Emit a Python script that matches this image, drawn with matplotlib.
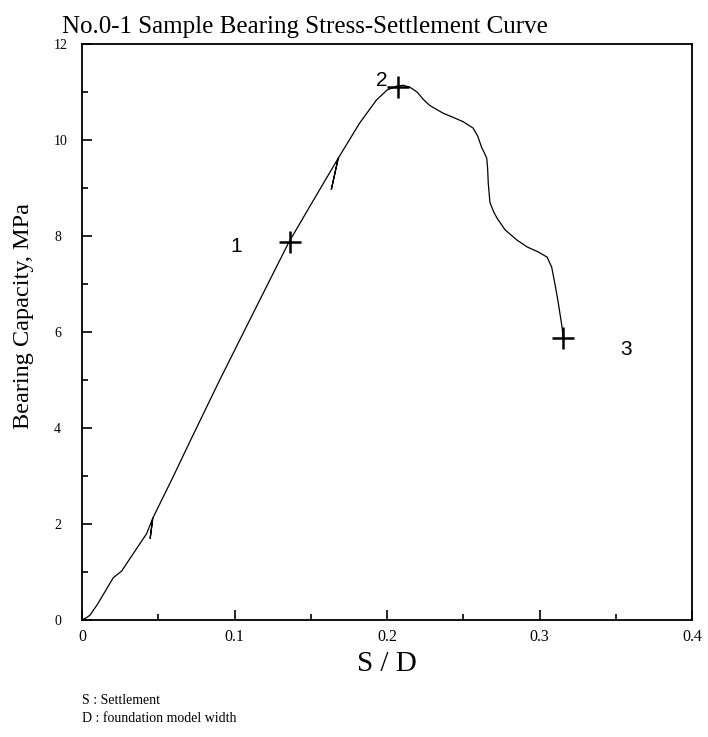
import matplotlib
matplotlib.use("Agg")
import matplotlib.pyplot as plt
from matplotlib.ticker import MultipleLocator

# ---- data ----
sd = [0.000, 0.003, 0.0052, 0.010, 0.0205, 0.026, 0.035, 0.0424, 0.0464, 0.0447, 0.0464,
      0.060, 0.0708, 0.090, 0.110, 0.1353, 0.150, 0.168, 0.1635, 0.168, 0.182, 0.193,
      0.200, 0.2060, 0.2105, 0.2150, 0.2197, 0.2240, 0.2280, 0.2367, 0.2450, 0.2500,
      0.2564, 0.2595, 0.2620, 0.2640, 0.2654, 0.2660, 0.2664, 0.2675, 0.2700, 0.2720,
      0.2774, 0.2850, 0.2920, 0.2990, 0.3050, 0.3080, 0.3100, 0.3120, 0.3148, 0.3154]
stress = [0.00, 0.05, 0.10, 0.32, 0.88, 1.02, 1.45, 1.80, 2.12, 1.70, 2.12,
          3.00, 3.72, 4.98, 6.25, 7.85, 8.65, 9.62, 8.97, 9.62, 10.35, 10.83,
          11.04, 11.12, 11.14, 11.10, 11.00, 10.84, 10.72, 10.56, 10.45, 10.38,
          10.25, 10.08, 9.85, 9.72, 9.62, 9.40, 9.10, 8.70, 8.50, 8.38,
          8.13, 7.92, 7.77, 7.67, 7.56, 7.35, 7.02, 6.67, 6.10, 5.90]

key_x = [0.1364, 0.2074, 0.3156]
key_y = [7.87, 11.11, 5.88]
key_labels = ["1", "2", "3"]
label_x = [0.101, 0.1967, 0.3567]
label_y = [7.79, 11.25, 5.63]

x_ticks = [0, 0.1, 0.2, 0.3, 0.4]
x_tick_labels = ["0", "0.1", "0.2", "0.3", "0.4"]
y_ticks = [0, 2, 4, 6, 8, 10, 12]

serif = "Liberation Serif"
sans = "Liberation Sans"

fig = plt.figure(figsize=(7.08, 7.37), dpi=100)
ax = fig.add_axes([82/708, 1-620/737, 610/708, 576/737])

ax.plot(sd, stress, color="black", lw=0.9)
ax.plot(key_x, key_y, linestyle="none", marker="+", markersize=16,
        markeredgewidth=1.8, color="black")
for lx, ly, t in zip(label_x, label_y, key_labels):
    ax.text(lx, ly, t, fontsize=15, family=sans, ha="center", va="center")

ax.set_xlim(0, 0.4)
ax.set_ylim(0, 12)
ax.set_xticks(x_ticks)
ax.set_xticklabels(x_tick_labels)
ax.set_yticks(y_ticks)
ax.xaxis.set_minor_locator(MultipleLocator(0.05))
ax.yaxis.set_minor_locator(MultipleLocator(1))
ax.tick_params(which="both", direction="in", top=False, right=False, width=1.2)
ax.tick_params(which="major", length=7.5)
ax.tick_params(which="minor", length=4.5)
ax.tick_params(axis="y", pad=20, labelsize=10)
ax.tick_params(axis="x", pad=6.5, labelsize=11.5)
for lab in ax.get_xticklabels() + ax.get_yticklabels():
    lab.set_family(serif)
for lab in ax.get_yticklabels():
    lab.set_horizontalalignment("left")
for s in ax.spines.values():
    s.set_linewidth(1.3)

ax.set_xlabel("S / D", fontsize=21, family=serif)
ax.xaxis.set_label_coords(0.5, (620 - 651) / 576)
ax.set_ylabel("Bearing Capacity, MPa", fontsize=17.5, family=serif)
ax.yaxis.set_label_coords((34 - 82) / 610, (620 - 316.5) / 576)
ax.set_title("No.0-1 Sample Bearing Stress-Settlement Curve", fontsize=18,
             family=serif, loc="left", x=-0.033, pad=8)

fig.text(82/708, 1-701/737, "S : Settlement", fontsize=10, family=serif, va="center")
fig.text(82/708, 1-719/737, "D : foundation model width", fontsize=10, family=serif, va="center")

fig.savefig("out.png", dpi=100)
